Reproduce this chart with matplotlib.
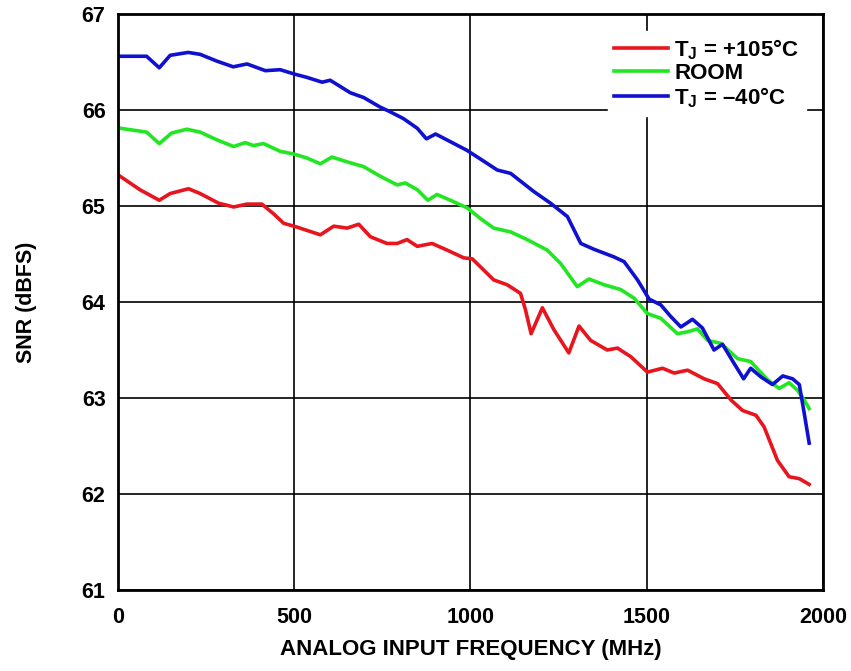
import matplotlib.pyplot as plt

plt.rcParams['font.family'] = ['Liberation Sans', 'DejaVu Sans']
plt.rcParams['mathtext.fontset'] = 'custom'
plt.rcParams['mathtext.bf'] = 'Liberation Sans:bold'
plt.rcParams['mathtext.rm'] = 'Liberation Sans:bold'
plt.rcParams['mathtext.default'] = 'bf'

# SNR vs analog input frequency
freq_hot = [6, 62, 117, 148, 200, 233, 285, 328, 366, 408, 441, 470, 508, 574, 612,
            650, 683, 716, 763, 792, 820, 849, 891, 934, 981, 1005, 1066, 1104, 1142,
            1156, 1172, 1204, 1237, 1279, 1308, 1341, 1388, 1417, 1455, 1502, 1545,
            1578, 1616, 1663, 1701, 1739, 1772, 1810, 1833, 1871, 1904, 1933, 1961]
snr_hot = [65.31, 65.17, 65.06, 65.13, 65.18, 65.13, 65.03, 64.99, 65.02, 65.02, 64.92,
           64.82, 64.78, 64.70, 64.79, 64.77, 64.81, 64.68, 64.61, 64.61, 64.65, 64.58,
           64.61, 64.54, 64.46, 64.45, 64.23, 64.18, 64.09, 63.92, 63.67, 63.94, 63.71,
           63.47, 63.75, 63.60, 63.50, 63.52, 63.43, 63.27, 63.31, 63.26, 63.29, 63.20,
           63.15, 62.98, 62.87, 62.82, 62.70, 62.35, 62.18, 62.16, 62.10]

freq_room = [6, 81, 117, 152, 195, 233, 280, 328, 361, 384, 413, 460, 500, 536, 574,
             607, 650, 697, 744, 792, 815, 849, 879, 905, 943, 991, 1028, 1066, 1114,
             1161, 1218, 1256, 1303, 1336, 1379, 1426, 1464, 1502, 1540, 1587, 1616,
             1644, 1673, 1710, 1758, 1795, 1843, 1876, 1904, 1928, 1947, 1961]
snr_room = [65.81, 65.77, 65.65, 65.76, 65.80, 65.77, 65.69, 65.62, 65.66, 65.63, 65.65,
            65.57, 65.54, 65.50, 65.44, 65.51, 65.46, 65.41, 65.31, 65.22, 65.24, 65.17,
            65.06, 65.12, 65.06, 64.98, 64.87, 64.77, 64.73, 64.65, 64.54, 64.40, 64.16,
            64.24, 64.18, 64.13, 64.04, 63.88, 63.83, 63.67, 63.69, 63.72, 63.60, 63.57,
            63.41, 63.38, 63.19, 63.10, 63.16, 63.08, 62.98, 62.89]

freq_cold = [6, 81, 117, 148, 199, 233, 280, 327, 366, 418, 460, 500, 536, 579, 602,
             659, 697, 744, 773, 810, 849, 875, 901, 943, 990, 1028, 1076, 1114, 1180,
             1227, 1275, 1313, 1350, 1407, 1436, 1474, 1507, 1540, 1568, 1597, 1630,
             1658, 1691, 1715, 1748, 1775, 1795, 1824, 1857, 1886, 1914, 1933, 1947, 1961]
snr_cold = [66.56, 66.56, 66.44, 66.57, 66.60, 66.58, 66.51, 66.45, 66.48, 66.41, 66.42,
            66.375, 66.34, 66.29, 66.31, 66.18, 66.13, 66.03, 65.98, 65.91, 65.81, 65.70,
            65.75, 65.67, 65.58, 65.49, 65.375, 65.34, 65.15, 65.03, 64.89, 64.61, 64.55,
            64.47, 64.42, 64.23, 64.03, 63.97, 63.85, 63.74, 63.82, 63.73, 63.50, 63.56,
            63.36, 63.20, 63.31, 63.22, 63.14, 63.23, 63.20, 63.14, 62.84, 62.53]

labels = ['T$_J$ = +105°C', 'ROOM', 'T$_J$ = \u201340°C']
colors = ['#e8141e', '#22e622', '#1010d0']

fig = plt.figure(figsize=(8.51, 6.71), dpi=100)
ax = fig.add_axes([0.1387, 0.1207, 0.8283, 0.8584])

for f, s, lab, c in zip([freq_hot, freq_room, freq_cold],
                        [snr_hot, snr_room, snr_cold], labels, colors):
    ax.plot(f, s, color=c, lw=2.6, label=lab, solid_joinstyle='round')

ax.set_xlim(0, 2000)
ax.set_ylim(61, 67)
ax.set_xticks([0, 500, 1000, 1500, 2000])
ax.set_yticks(range(61, 68))
ax.grid(True, color='black', lw=1.2)
ax.set_axisbelow(True)
ax.tick_params(length=0, labelsize=15.5)
ax.tick_params(axis='x', pad=12)
ax.tick_params(axis='y', pad=9)
for t in ax.get_xticklabels() + ax.get_yticklabels():
    t.set_fontweight('bold')
for sp in ax.spines.values():
    sp.set_linewidth(2)

ax.set_xlabel('ANALOG INPUT FREQUENCY (MHz)', fontsize=16, fontweight='bold', labelpad=8)
ax.set_ylabel('SNR (dBFS)', fontsize=15.5, fontweight='bold', labelpad=32)

leg = ax.legend(loc='upper right', bbox_to_anchor=(0.982, 0.979),
                prop={'weight': 'bold', 'size': 16}, frameon=True, fancybox=False,
                handlelength=2.4, handletextpad=0.3, labelspacing=0.05,
                borderpad=0.3, borderaxespad=0.2)
leg.get_frame().set_facecolor('white')
leg.get_frame().set_edgecolor('white')
leg.get_frame().set_alpha(1)

fig.savefig('out.png', dpi=100)
